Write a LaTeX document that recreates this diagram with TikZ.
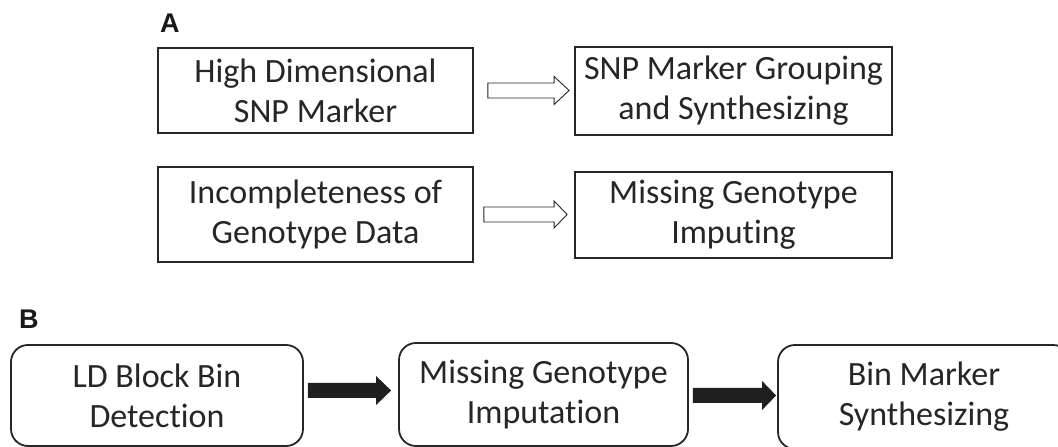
\documentclass[tikz,border=0pt]{standalone}
\usepackage{fontspec}
\setmainfont{Carlito}[Ligatures=NoCommon]
\newfontfamily\labelfont{Liberation Sans}
\usetikzlibrary{calc,arrows.meta}
\begin{document}
\begin{tikzpicture}[x=1pt,y=1pt,
  boxtext/.style={font=\fontsize{34}{40}\selectfont, align=center, inner sep=0pt, text=black!85},
  sqbox/.style={boxtext, draw=black!85, line width=1.8pt},
  rbox/.style={boxtext, draw=black!85, line width=1.8pt, rounded corners=17pt},
  panel/.style={font=\labelfont\bfseries\fontsize{27}{30}\selectfont, inner sep=0pt, anchor=base west, text=black!90},
  solidarr/.style={draw=none, fill=black!88}
]
\useasboundingbox (0,0) rectangle (1058,447);
\clip (0,0) rectangle (1058,447);
\fill[white] (0,0) rectangle (1058,447);

\node[panel] (lA) at (160,414) {A};
\node[panel] (lB) at (19,118.5) {B};

\node[sqbox, minimum width=315pt, minimum height=85pt] (a1) at (315.5,356.5) {High Dimensional\\SNP Marker};
\node[sqbox, minimum width=317pt, minimum height=88pt] (a2) at (733.5,356) {SNP Marker Grouping\\and Synthesizing};
\node[sqbox, minimum width=315pt, minimum height=95pt] (a3) at (315.5,232.5) {Incompleteness of\\Genotype Data};
\node[sqbox, minimum width=317pt, minimum height=86pt] (a4) at (733.5,232) {Missing Genotype\\Imputing};

\node[rbox, minimum width=292pt, minimum height=101pt] (b1) at (157,51.5) {LD Block Bin\\Detection};
\node[rbox, minimum width=289pt, minimum height=103pt] (b2) at (543.5,52.5) {Missing Genotype\\Imputation};
\node[rbox, minimum width=292pt, minimum height=104pt] (b3) at (924,50) {Bin Marker\\Synthesizing};

% hollow arrows (panel A)
\draw[line width=0.9pt, draw=black!85, fill=white, line join=miter]
  let \p1=($(a1.east)+(14,0)$), \p2=($(a2.west)+(-5,0)$) in
  (\x1,\y1+7.5) -- (\x2-15,\y1+7.5) -- (\x2-15,\y1+14) -- (\x2,\y1)
  -- (\x2-15,\y1-14) -- (\x2-15,\y1-7.5) -- (\x1,\y1-7.5) -- cycle;
\draw[line width=0.9pt, draw=black!85, fill=white, line join=miter]
  let \p1=($(a3.east)+(10,0)$), \p2=($(a4.west)+(-7,0)$) in
  (\x1,\y1+7.5) -- (\x2-13,\y1+7.5) -- (\x2-13,\y1+13.5) -- (\x2,\y1)
  -- (\x2-13,\y1-13.5) -- (\x2-13,\y1-7.5) -- (\x1,\y1-7.5) -- cycle;

% solid arrows (panel B)
\fill[solidarr]
  let \p1=($(b1.east)+(4,5)$), \p2=($(b2.west)+(-7,5)$) in
  (\x1,\y1+7.5) -- (\x2-15,\y1+7.5) -- (\x2-15,\y1+14.5) -- (\x2,\y1)
  -- (\x2-15,\y1-14.5) -- (\x2-15,\y1-7.5) -- (\x1,\y1-7.5) -- cycle;
\fill[solidarr]
  let \p1=($(b2.east)+(4,-1)$), \p2=($(b3.west)+(-1,-1)$) in
  (\x1,\y1+7.5) -- (\x2-14,\y1+7.5) -- (\x2-14,\y1+14.5) -- (\x2,\y1)
  -- (\x2-14,\y1-14.5) -- (\x2-14,\y1-7.5) -- (\x1,\y1-7.5) -- cycle;
\end{tikzpicture}
\end{document}
